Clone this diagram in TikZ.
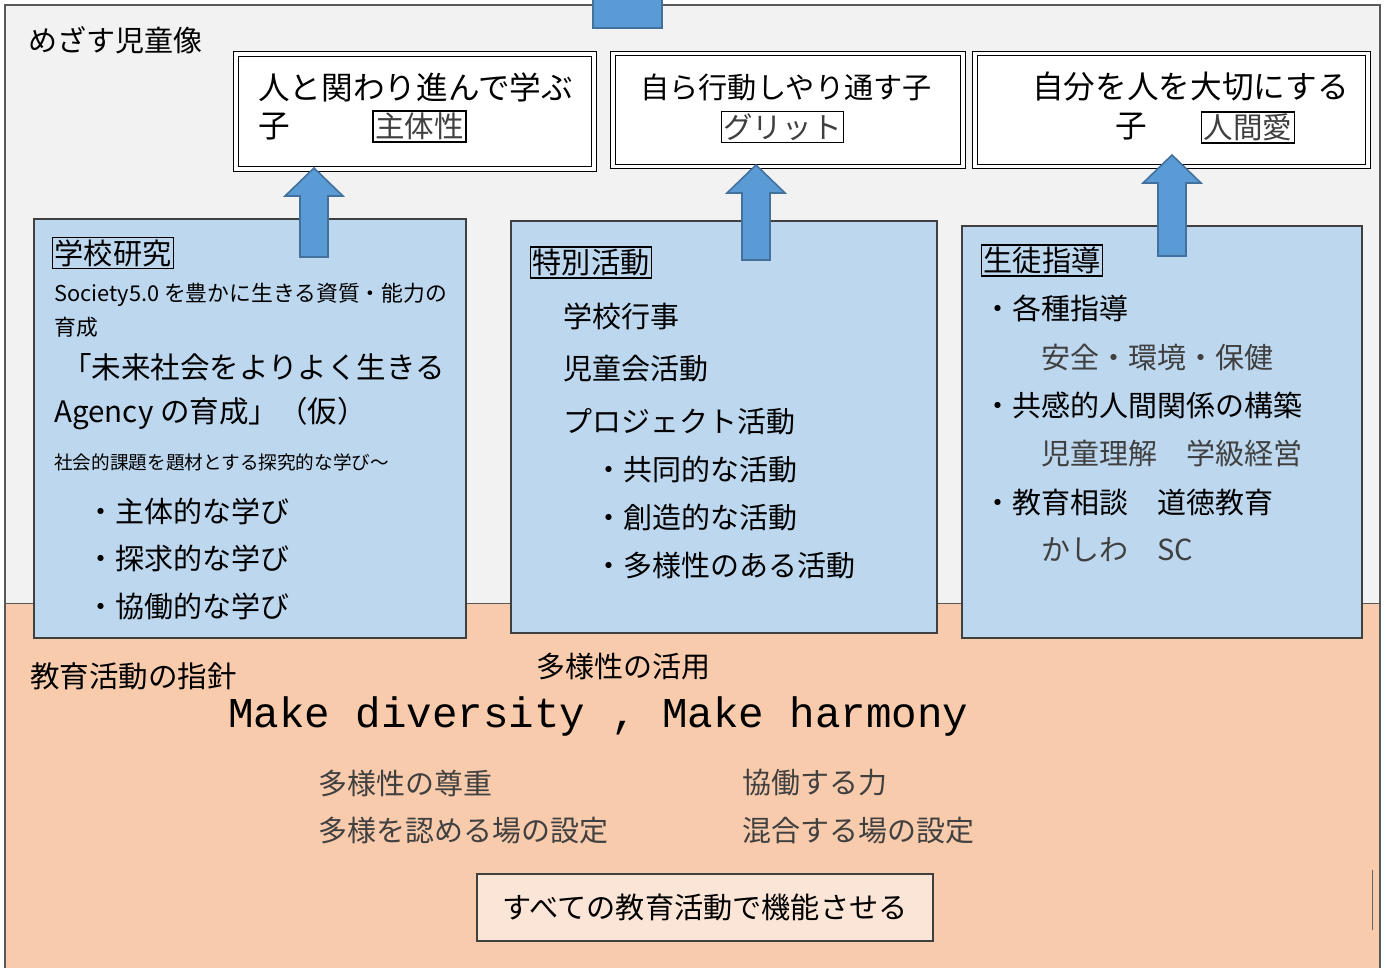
\documentclass[tikz,border=0pt]{standalone}
\usepackage{fontspec}
\setmainfont{Noto Sans CJK JP}
\newfontfamily\mottofont{Liberation Mono}
\usetikzlibrary{ % tikz packages
    positioning
}
\definecolor{bggray}{HTML}{F2F2F2}
\definecolor{bgorange}{HTML}{F8CBAD}
\definecolor{boxblue}{HTML}{BDD7EE}
\definecolor{arrowblue}{HTML}{5B9BD5}
\definecolor{arrowedge}{HTML}{41719C}
\definecolor{palepeach}{HTML}{FBE5D6}
\definecolor{txtgray}{HTML}{404040}
\definecolor{framegray}{HTML}{595959}
\newcommand\fsz[1]{\fontsize{#1}{#1}\selectfont}
\tikzset{
    lbl/.style={anchor=west, inner sep=0pt},
    tagbox/.style={draw, line width=0.9pt, inner sep=1.2pt},
    goalbox/.style={draw, double, double distance=1.8pt, line width=0.6pt, fill=white},
    actbox/.style={draw=black!75, line width=0.7pt, fill=boxblue},
    upblock/.style={draw=arrowedge, line width=0.9pt, fill=arrowblue},
    soft/.style={text=txtgray}
}
% block arrow pointing up: x, bottom y, tip y
\newcommand\blockup[3]{%
    \draw[upblock] ({#1-14},#2) -- ({#1-14},{#3+28}) -- ({#1-29},{#3+28})
        -- (#1,#3) -- ({#1+29},{#3+28}) -- ({#1+14},{#3+28}) -- ({#1+14},#2) -- cycle;}

\begin{document}
\begin{tikzpicture}[x=0.02cm, y=-0.02cm, font=\fsz{16.5}]
    \useasboundingbox (0,0) rectangle (1386,968);
    % background areas
    \fill[bggray] (5,5) rectangle (1380,603);
    \fill[bgorange] (5,603) rectangle (1380,968);
    \draw[framegray, line width=0.6pt] (5,968) -- (5,5) -- (1380,5) -- (1380,968);
    \draw[framegray, line width=0.4pt] (5,603) -- (1380,603);
    \draw[upblock] (593,-3) rectangle (662,28);

    \node[lbl] (aim) at (28,40) {めざす児童像};

    % goals
    \node[goalbox, minimum width=7.16cm, minimum height=2.3cm] (goal1) at (415,111.5) {};
    \node[goalbox, minimum width=7.0cm, minimum height=2.26cm] (goal2) at (788,110) {};
    \node[goalbox, minimum width=7.86cm, minimum height=2.26cm] (goal3) at (1171.5,110) {};

    \node[lbl, font=\fsz{18}] (g1a) at (258,87) {人と関わり進んで学ぶ};
    \node[lbl, font=\fsz{18}] (g1b) at (258,127) {子};
    \node[tagbox, soft, font=\fsz{16.8}] (g1tag) at (419.5,126.5) {主体性};
    \node[lbl, font=\fsz{16.6}] (g2a) at (640,87) {自ら行動しやり通す子};
    \node[tagbox, soft, font=\fsz{16.8}] (g2tag) at (782.5,127) {グリット};
    \node[lbl, font=\fsz{18}] (g3a) at (1032,87) {自分を人を大切にする};
    \node[lbl, font=\fsz{18}] (g3b) at (1115,127) {子};
    \node[tagbox, soft, font=\fsz{16.8}] (g3tag) at (1248,127.5) {人間愛};

    % activity boxes
    \node[actbox, minimum width=8.64cm, minimum height=8.38cm] (resA) at (250,428.5) {};
    \node[actbox, minimum width=8.52cm, minimum height=8.24cm] (spcB) at (724,427) {};
    \node[actbox, minimum width=8.0cm, minimum height=8.24cm] (guidC) at (1162,432) {};

    \node[tagbox, font=\fsz{16.6}] (resAtag) at (113,253) {学校研究};
    \node[lbl, font=\fsz{12.4}] (resA1) at (54,295) {Society5.0 を豊かに生きる資質・能力の};
    \node[lbl, font=\fsz{12.4}] (resA2) at (54,327) {育成};
    \node[lbl, font=\fsz{16.8}] (resA3) at (62,367) {「未来社会をよりよく生きる};
    \node[lbl, font=\fsz{16.8}] (resA4) at (54,414) {Agency の育成」（仮）};
    \node[lbl, font=\fsz{10.6}] (resA5) at (54,462) {社会的課題を題材とする探究的な学び〜};
    \node[lbl] (resA6) at (86,511) {・主体的な学び};
    \node[lbl] (resA7) [below=0.94cm of resA6.west, anchor=west] {・探求的な学び};
    \node[lbl] (resA8) [below=0.96cm of resA7.west, anchor=west] {・協働的な学び};

    \node[tagbox, font=\fsz{16.6}] (spcBtag) at (591,262.5) {特別活動};
    \node[lbl] (spcB1) at (563,316) {学校行事};
    \node[lbl] (spcB2) [below=1.06cm of spcB1.west, anchor=west] {児童会活動};
    \node[lbl] (spcB3) [below=1.06cm of spcB2.west, anchor=west] {プロジェクト活動};
    \node[lbl] (spcB4) at (594,469) {・共同的な活動};
    \node[lbl] (spcB5) [below=0.96cm of spcB4.west, anchor=west] {・創造的な活動};
    \node[lbl] (spcB6) [below=0.98cm of spcB5.west, anchor=west] {・多様性のある活動};

    \node[tagbox, font=\fsz{16.6}] (guidCtag) at (1042,260.5) {生徒指導};
    \node[lbl] (guidC1) at (983,308) {・各種指導};
    \node[lbl, soft] (guidC2) at (1041,357) {安全・環境・保健};
    \node[lbl] (guidC3) at (983,405) {・共感的人間関係の構築};
    \node[lbl, soft] (guidC4) at (1041,453) {児童理解　学級経営};
    \node[lbl] (guidC5) at (983,502) {・教育相談　道徳教育};
    \node[lbl, soft] (guidC6) at (1041,550) {かしわ　SC};

    % arrows up to the goals
    \blockup{314}{257}{168}
    \blockup{756}{260}{165}
    \blockup{1172}{256}{155}

    % policy
    \node[lbl, font=\fsz{16.8}] (policy) at (30,676) {教育活動の指針};
    \node[lbl] (divHead) at (536,667) {多様性の活用};
    \node[lbl, font=\mottofont\fontsize{24.2}{24.2}\selectfont] (motto) at (228,716) {Make diversity , Make harmony};
    \node[lbl, soft] (divL1) at (318,783) {多様性の尊重};
    \node[lbl, soft] (divL2) at (318,831) {多様を認める場の設定};
    \node[lbl, soft] (divR1) at (742,783) {協働する力};
    \node[lbl, soft] (divR2) at (742,831) {混合する場の設定};
    \node[draw=black!75, line width=0.8pt, fill=palepeach, minimum width=9.12cm,
          minimum height=1.34cm, font=\fsz{16.6}] (allAct) at (705,907.5) {すべての教育活動で機能させる};
    \draw[black!60, line width=0.3pt] (1372,870) -- (1372,930);
\end{tikzpicture}
\end{document}
